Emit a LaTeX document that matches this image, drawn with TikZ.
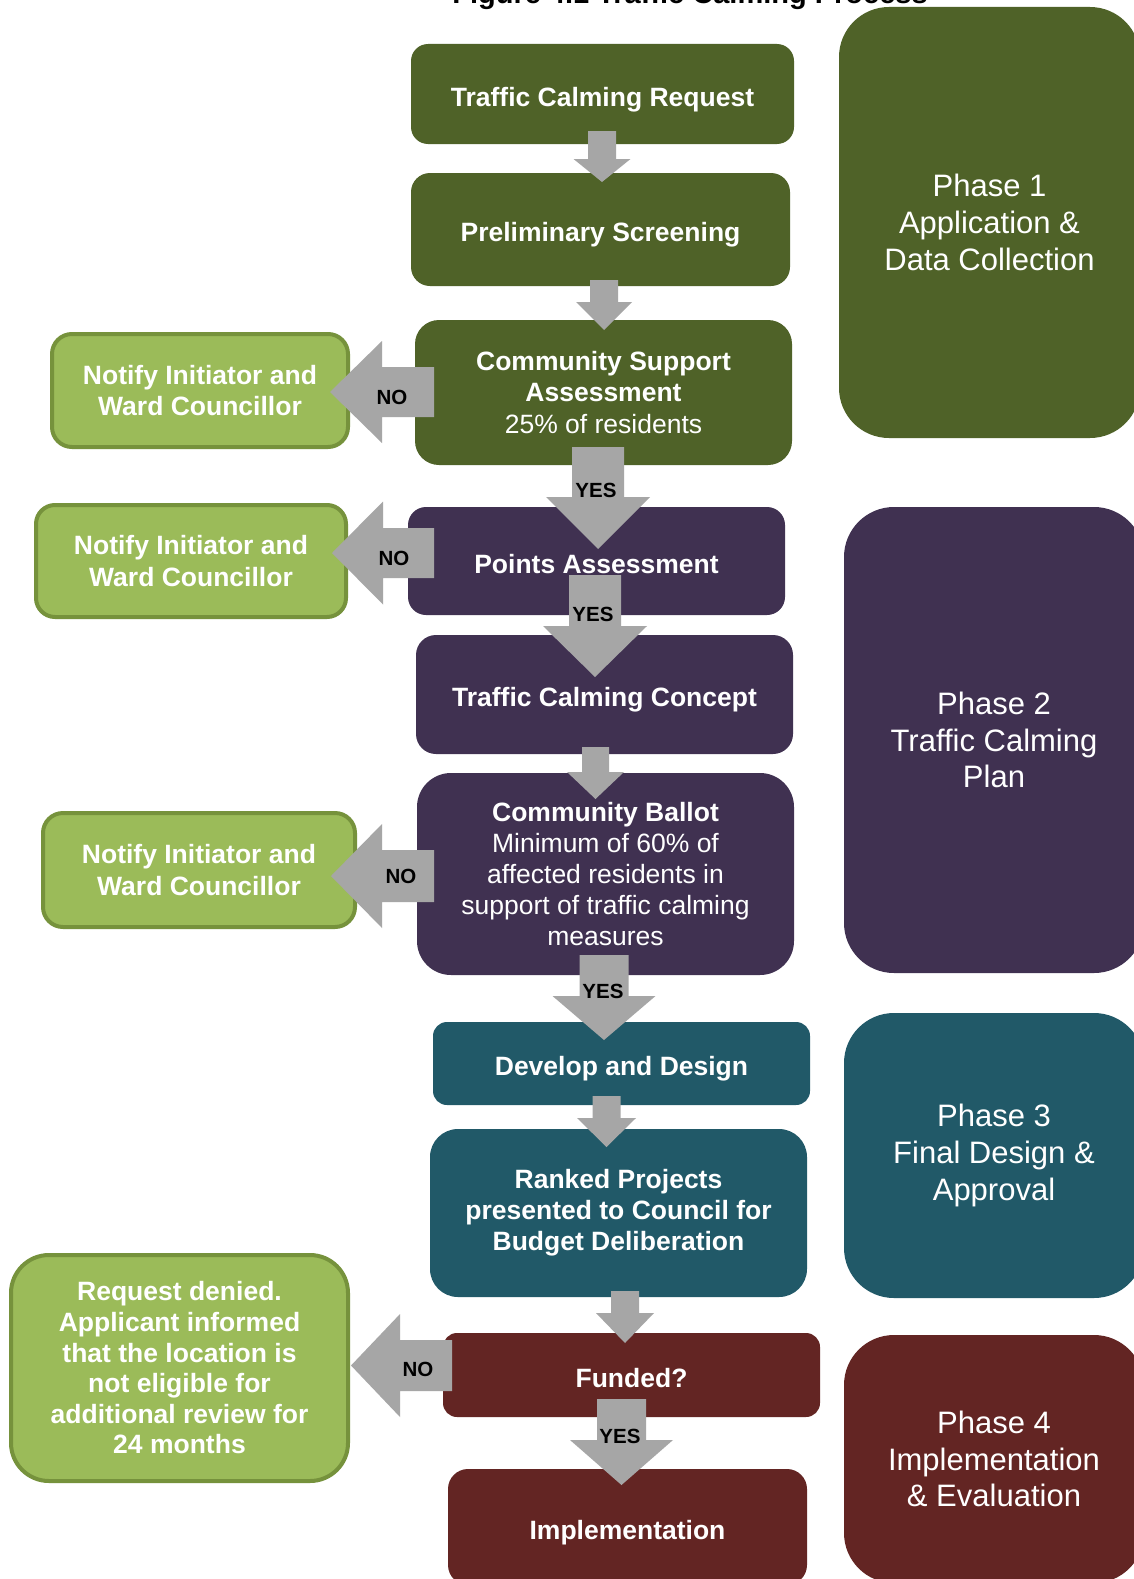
\documentclass[tikz,border=0pt]{standalone}
\usepackage{fontspec}
\setmainfont{Liberation Sans}
\definecolor{pgreen}{HTML}{4F6228}
\definecolor{ppurple}{HTML}{403151}
\definecolor{pteal}{HTML}{215968}
\definecolor{pred}{HTML}{632523}
\definecolor{lgreen}{HTML}{9BBB59}
\definecolor{lgreenb}{HTML}{76923C}
\definecolor{agray}{HTML}{A6A6A6}
\newcommand{\BlockDown}[6]{%
  \fill[agray] ({#1-#5},#2) -- ({#1+#5},#2) -- ({#1+#5},#3) -- ({#1+#6},#3) -- (#1,#4) -- ({#1-#6},#3) -- ({#1-#5},#3) -- cycle;}
\newcommand{\BlockLeft}[6]{%
  \fill[agray] (#2,{#1-#5}) -- (#2,{#1+#5}) -- (#3,{#1+#5}) -- (#3,{#1+#6}) -- (#4,#1) -- (#3,{#1-#6}) -- (#3,{#1-#5}) -- cycle;}
\tikzset{
  stepbox/.style={text=white, align=center, font=\fontsize{26.5}{31.1}\selectfont\bfseries, rectangle, inner sep=0pt},
  oneline/.style={text height=24pt, text depth=0pt},
  notebox/.style={stepbox, fill=lgreen, draw=lgreenb, line width=4pt},
  phasebox/.style={rectangle, inner sep=0pt, rounded corners=50pt, text=white, align=center,
     font=\fontsize{31}{36.6}\selectfont},
  lbl/.style={font=\fontsize{20.5}{24}\selectfont\bfseries, text=black, inner sep=0pt}
}
\begin{document}
\begin{tikzpicture}[x=1pt,y=-1pt]
\useasboundingbox (0,0) rectangle (1134,1579);
\clip (0,0) rectangle (1134,1579);
\fill[white] (0,0) rectangle (1134,1579);

% title (cut off at top)
\node[anchor=base, font=\fontsize{29}{34}\selectfont\bfseries, inner sep=0pt] (title) at (690,3.5) {Figure 4.1 Traffic Calming Process};

% phase boxes
\node[phasebox, fill=pgreen, minimum width=301pt, minimum height=431pt] (p1) at (989.5,222.5) {Phase 1\\Application \&\\Data Collection};
\node[phasebox, fill=ppurple, minimum width=300pt, minimum height=466pt] (p2) at (994,740) {Phase 2\\Traffic Calming\\Plan};
\node[phasebox, fill=pteal, minimum width=300pt, minimum height=285pt] (p3) at (994,1155.5) {Phase 3\\Final Design \&\\Approval};
\node[phasebox, fill=pred, minimum width=300pt, minimum height=248pt] (p4) at (994,1459) {Phase 4\\Implementation\\\& Evaluation};

% process boxes
\node[stepbox, oneline, fill=pgreen, minimum width=383pt, minimum height=100pt, rounded corners=17pt] (b1) at (602.5,94) {Traffic Calming Request};
\node[stepbox, oneline, fill=pgreen, minimum width=379pt, minimum height=113pt, rounded corners=19pt] (b2) at (600.5,229.5) {Preliminary Screening};
\node[stepbox, fill=pgreen, minimum width=377pt, minimum height=145pt, rounded corners=24pt] (b3) at (603.5,392.5) {Community Support\\Assessment\\\mdseries 25\% of residents};
\node[stepbox, oneline, fill=ppurple, minimum width=377pt, minimum height=108pt, rounded corners=18pt] (b4) at (596.5,561) {Points Assessment};
\node[stepbox, oneline, fill=ppurple, minimum width=377pt, minimum height=119pt, rounded corners=20pt] (b5) at (604.5,694.5) {Traffic Calming Concept};
\node[stepbox, fill=ppurple, minimum width=377pt, minimum height=202pt, rounded corners=34pt] (b6) at (605.5,874) {Community Ballot\\\mdseries Minimum of 60\% of\\\mdseries affected residents in\\\mdseries support of traffic calming\\\mdseries measures};
\node[stepbox, oneline, fill=pteal, minimum width=377pt, minimum height=83pt, rounded corners=14pt] (b7) at (621.5,1063.5) {Develop and Design};
\node[stepbox, fill=pteal, minimum width=377pt, minimum height=168pt, rounded corners=28pt] (b8) at (618.5,1213) {Ranked Projects\\presented to Council for\\Budget Deliberation};
\node[stepbox, oneline, fill=pred, minimum width=377pt, minimum height=84pt, rounded corners=14pt] (b9) at (631.5,1375) {Funded?};
\node[stepbox, oneline, fill=pred, minimum width=359pt, minimum height=116pt, rounded corners=20pt] (b10) at (627.5,1527) {Implementation};

% notification boxes
\node[notebox, minimum width=296pt, minimum height=113pt, rounded corners=20pt] (g1) at (200,390.5) {Notify Initiator and\\Ward Councillor};
\node[notebox, minimum width=310pt, minimum height=112pt, rounded corners=19pt] (g2) at (191,561) {Notify Initiator and\\Ward Councillor};
\node[notebox, minimum width=312pt, minimum height=114pt, rounded corners=20pt] (g3) at (199,870) {Notify Initiator and\\Ward Councillor};
\node[notebox, minimum width=337pt, minimum height=226pt, rounded corners=38pt, font=\fontsize{26.5}{30.6}\selectfont\bfseries] (g4) at (179.5,1368) {Request denied.\\Applicant informed\\that the location is\\not eligible for\\additional review for\\24 months};

% block arrows
\BlockDown{602}{131}{159}{182}{14}{28.5}
\BlockDown{604}{280}{302}{330}{14}{28}
\BlockDown{598}{447}{497}{549}{26}{52}
\BlockDown{595}{575}{626}{677}{26}{52}
\BlockDown{595.5}{747}{772}{799}{13.5}{28.5}
\BlockDown{604}{955}{996}{1040}{24.5}{51.5}
\BlockDown{606.5}{1096}{1118}{1147}{14}{29.5}
\BlockDown{625}{1291}{1313}{1343}{14}{29}
\BlockDown{621.5}{1399}{1440}{1485}{24.5}{51.5}
\BlockLeft{392}{434}{382}{330}{25}{51}
\BlockLeft{553}{434}{383}{332}{25}{51.5}
\BlockLeft{876}{434}{382}{331}{26}{52}
\BlockLeft{1365.5}{452}{400}{351}{25.5}{51.5}

% labels
\node[lbl] (no1) at (392,397) {NO};
\node[lbl] (no2) at (394,558) {NO};
\node[lbl] (no3) at (401,876) {NO};
\node[lbl] (no4) at (418,1369) {NO};
\node[lbl] (yes1) at (596,490) {YES};
\node[lbl] (yes2) at (593,614) {YES};
\node[lbl] (yes3) at (603,991) {YES};
\node[lbl] (yes4) at (620,1436) {YES};
\end{tikzpicture}
\end{document}
